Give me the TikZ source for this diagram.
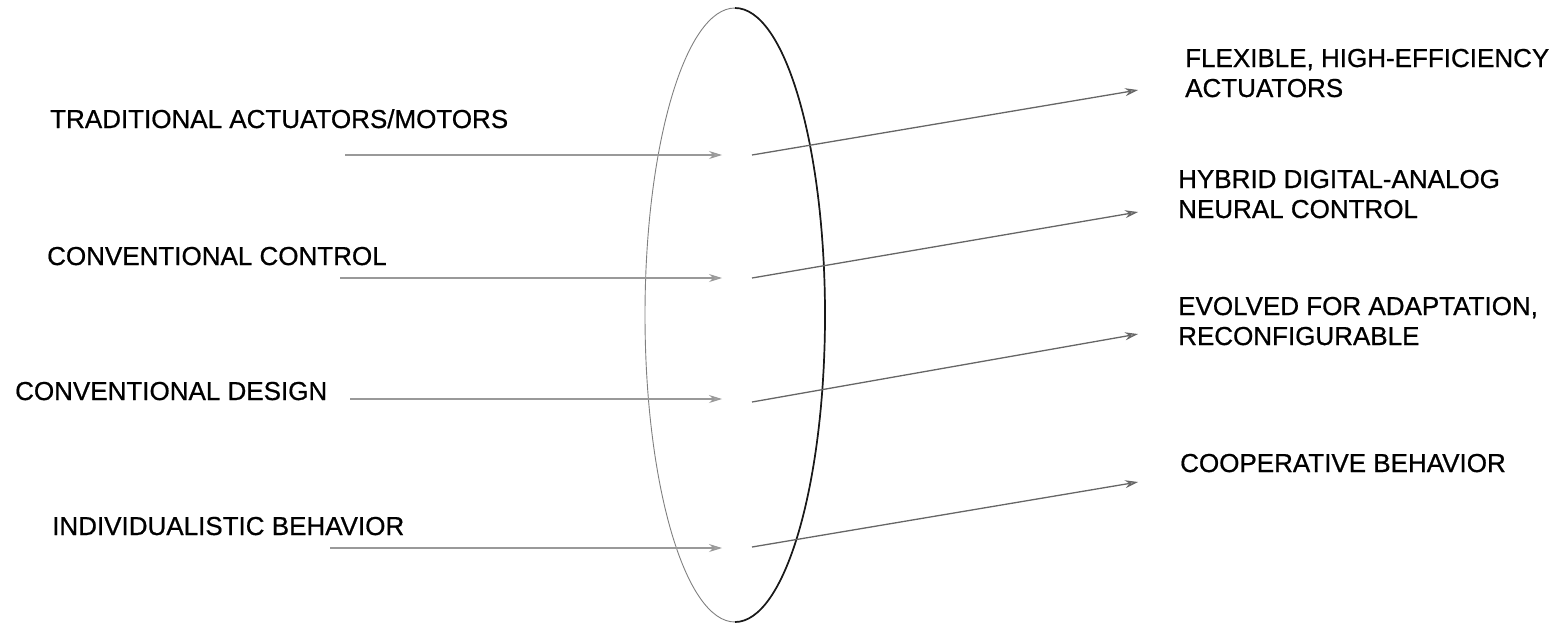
\documentclass[tikz,border=0pt]{standalone}
\usepackage{fontspec}
\setmainfont[FakeBold=0.7]{Liberation Sans}
\usetikzlibrary{arrows.meta}
\begin{document}
\begin{tikzpicture}[x=1pt,y=-1pt,
  lbl/.style={anchor=base west,inner sep=0pt,font=\fontsize{26}{30}\selectfont,align=left},
  conn/.style={draw=black!40,line width=1.1pt,-{Stealth[length=13pt,width=8pt,fill=black!35]}},
  connr/.style={draw=black!60,line width=1.3pt,-{Stealth[length=13pt,width=8pt,fill=black!35]}}]
\useasboundingbox (0,0) rectangle (1565,625);
% lens
\draw[black!50,line width=0.9pt] (735,315) ellipse[x radius=90,y radius=307];
\draw[black!90,line width=1.7pt] (735,622) arc[start angle=90,end angle=-90,x radius=90,y radius=307];
% left labels
\node[lbl] (l1) at (50,128) {TRADITIONAL ACTUATORS/MOTORS};
\node[lbl] (l2) at (47,265) {CONVENTIONAL CONTROL};
\node[lbl] (l3) at (15,400) {CONVENTIONAL DESIGN};
\node[lbl] (l4) at (52,535) {INDIVIDUALISTIC BEHAVIOR};
% right labels
\node[lbl] (r1) at (1185,97) {FLEXIBLE, HIGH-EFFICIENCY\\ACTUATORS};
\node[lbl] (r2) at (1178,218) {HYBRID DIGITAL-ANALOG\\NEURAL CONTROL};
\node[lbl] (r3) at (1178,345) {EVOLVED FOR ADAPTATION,\\RECONFIGURABLE};
\node[lbl] (r4) at (1180,472) {COOPERATIVE BEHAVIOR};
% arrow end points
\coordinate (a1s) at (345,155); \coordinate (a1m) at (722,155);
\coordinate (b1s) at (752,155); \coordinate (b1e) at (1138,90);
\coordinate (a2s) at (340,278); \coordinate (a2m) at (722,278);
\coordinate (b2s) at (752,278); \coordinate (b2e) at (1138,212);
\coordinate (a3s) at (350,399); \coordinate (a3m) at (722,399);
\coordinate (b3s) at (752,402); \coordinate (b3e) at (1138,334);
\coordinate (a4s) at (330,548); \coordinate (a4m) at (722,548);
\coordinate (b4s) at (752,547); \coordinate (b4e) at (1138,482);
\foreach \i in {1,2,3,4}{
  \draw[conn] (a\i s) -- (a\i m);
  \draw[connr] (b\i s) -- (b\i e);
}
\end{tikzpicture}
\end{document}
